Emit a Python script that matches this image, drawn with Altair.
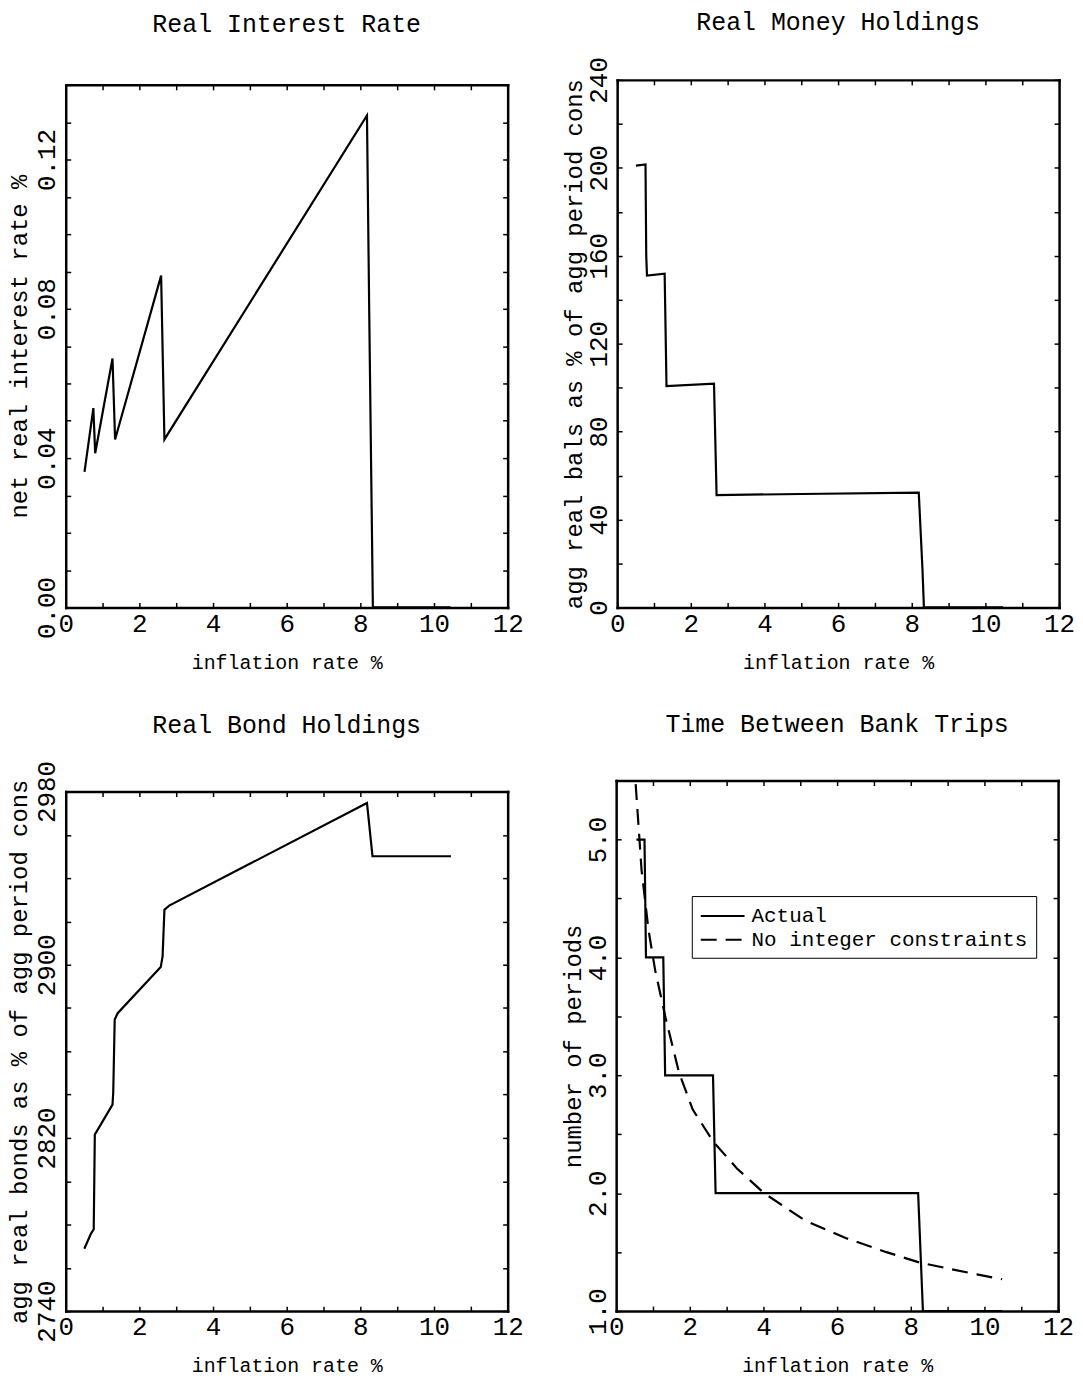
import altair as alt
import pandas as pd

FONT = "Liberation Mono"

# ---------------- data ----------------
# Real Interest Rate
rate_x = [0.51, 0.75, 0.80, 1.27, 1.34, 2.59, 2.68, 8.18, 8.24, 8.34, 10.45]
rate_y = [0.0363, 0.0534, 0.0413, 0.0667, 0.0450, 0.0889, 0.0450, 0.1318, 0.0800, 0.0, 0.0]

# Real Money Holdings
money_x = [0.51, 0.77, 0.79, 0.81, 1.29, 1.34, 2.63, 2.70, 5.00, 8.19, 8.29, 8.33, 10.48]
money_y = [201.0, 201.5, 160.0, 151.0, 151.8, 100.7, 101.8, 51.1, 51.6, 52.2, 17.6, 0.0, 0.0]

# Real Bond Holdings
bond_x = [0.505, 0.68, 0.76, 0.79, 0.83, 1.27, 1.29, 1.33, 1.41, 2.58, 2.63, 2.68, 2.81, 8.18, 8.33, 10.46]
bond_y = [2768.8, 2775.6, 2777.8, 2821.7, 2822.7, 2835.4, 2841.0, 2874.7, 2877.6, 2898.9, 2903.8,
          2925.4, 2927.3, 2974.7, 2950.1, 2950.1]

# Time Between Bank Trips
actual_x = [0.55, 0.77, 0.81, 1.28, 1.33, 2.63, 2.70, 8.20, 8.33, 10.48]
actual_y = [5.0, 5.0, 4.0, 4.0, 3.0, 3.0, 2.0, 2.0, 1.0, 1.0]
noint_x = [0.53, 0.69, 0.88, 1.06, 1.34, 1.71, 2.08, 2.63, 3.28, 4.02, 5.12, 6.23, 7.34, 8.26, 9.19, 9.83, 10.48]
noint_y = [5.47, 4.74, 4.23, 3.89, 3.49, 3.02, 2.71, 2.44, 2.21, 2.00, 1.77, 1.62, 1.50, 1.41, 1.35, 1.31, 1.27]
series_names = ["Actual", "No integer constraints"]

# axis tick values
x_labels = [0, 2, 4, 6, 8, 10, 12]
x_minor = [0, 1, 2, 3, 4, 5, 6, 7, 8, 9, 10, 11, 12]
rate_labels = [0.0, 0.04, 0.08, 0.12]
rate_minor = [0.0, 0.01, 0.02, 0.03, 0.04, 0.05, 0.06, 0.07, 0.08, 0.09, 0.10, 0.11, 0.12, 0.13, 0.14]
money_labels = [0, 40, 80, 120, 160, 200, 240]
money_minor = [0, 20, 40, 60, 80, 100, 120, 140, 160, 180, 200, 220, 240]
bond_labels = [2740, 2820, 2900, 2980]
bond_minor = [2740, 2760, 2780, 2800, 2820, 2840, 2860, 2880, 2900, 2920, 2940, 2960, 2980]
trip_labels = [1.0, 2.0, 3.0, 4.0, 5.0]
trip_minor = [1.0, 1.5, 2.0, 2.5, 3.0, 3.5, 4.0, 4.5, 5.0, 5.5]

# ---------------- helpers ----------------
XS = alt.Scale(domain=[0, 12], nice=False, zero=False)
BOX_W = 2.5


def tick_axis(orient, values, off):
    return alt.Axis(orient=orient, values=values, labels=False, title=None, domain=False,
                    grid=False, ticks=True, tickSize=5, tickWidth=1.5, tickColor="black",
                    offset=off)


def frame_axis(orient, off):
    return alt.Axis(orient=orient, labels=False, title=None, ticks=False, grid=False,
                    domain=True, domainColor="black", domainWidth=BOX_W, domainCap="square",
                    offset=off)


def main_x_axis():
    return alt.Axis(orient="bottom", values=x_labels, format="d", title="inflation rate %",
                    ticks=False, domain=True, domainColor="black", domainWidth=BOX_W,
                    domainCap="square", grid=False, labelFontSize=26, labelPadding=3,
                    labelFlush=False, labelOverlap=False, labelBound=False,
                    titleFontSize=20, titleY=55, titleBaseline="middle")


def main_y_axis(values, fmt, title, title_x):
    return alt.Axis(orient="left", values=values, format=fmt, title=title, ticks=False,
                    domain=True, domainColor="black", domainWidth=BOX_W, domainCap="square",
                    grid=False, labelAngle=270, labelAlign="center",
                    labelBaseline="bottom", labelFontSize=26, labelPadding=6,
                    labelOverlap=False, labelBound=False, labelFlush=False,
                    titleFontSize=24, titleX=title_x, titleBaseline="middle")


def panel(main_layer_fn, df, ydom, ylabels, yminor, yfmt, ytitle, ytitle_x, title, toff,
          w, h, shift):
    ys = alt.Scale(domain=ydom, nice=False, zero=False, range=[h, shift])
    base = alt.Chart(df)
    l1 = main_layer_fn(base, ys, main_y_axis(ylabels, yfmt, ytitle, ytitle_x))
    l2 = base.mark_line(opacity=0).encode(
        x=alt.X("x:Q", scale=XS, axis=tick_axis("bottom", x_minor, -5)),
        y=alt.Y("y:Q", scale=ys, axis=tick_axis("left", yminor, -5)),
    )
    l3 = base.mark_line(opacity=0).encode(
        x=alt.X("x:Q", scale=XS, axis=tick_axis("top", x_minor, -(shift + 5))),
        y=alt.Y("y:Q", scale=ys, axis=tick_axis("right", yminor, -5)),
    )
    l4 = base.mark_line(opacity=0).encode(
        x=alt.X("x:Q", scale=XS, axis=frame_axis("top", -shift)),
        y=alt.Y("y:Q", scale=ys, axis=frame_axis("right", 0)),
    )
    return alt.layer(l1, l2, l3, l4).resolve_axis(x="independent", y="independent").properties(
        width=w, height=h,
        title=alt.TitleParams(text=title, font=FONT, fontSize=25, fontWeight="normal",
                              color="black", anchor="middle", frame="group", offset=toff,
                              baseline="alphabetic"),
    )


def simple_line(base, ys, yaxis):
    return base.mark_line(color="black", strokeWidth=2.2, clip=True).encode(
        x=alt.X("x:Q", scale=XS, axis=main_x_axis()),
        y=alt.Y("y:Q", scale=ys, axis=yaxis),
    )


def trips_line(base, ys, yaxis):
    return base.mark_line(color="black", strokeWidth=2.2, clip=True).encode(
        x=alt.X("x:Q", scale=XS, axis=main_x_axis()),
        y=alt.Y("y:Q", scale=ys, axis=yaxis),
        strokeDash=alt.StrokeDash(
            "series:N",
            scale=alt.Scale(domain=series_names, range=[[1, 0], [16, 9]]),
            legend=alt.Legend(title=None, orient="none", legendX=76, legendY=116,
                              strokeColor="black", fillColor="white", padding=8,
                              labelFont=FONT, labelFontSize=21, labelColor="black",
                              symbolType="M-1,0H3", symbolSize=484, symbolStrokeWidth=2,
                              symbolStrokeColor="black", rowPadding=2, labelOffset=28,
                              labelLimit=400, direction="vertical", cornerRadius=0),
        ),
    )


rate_df = pd.DataFrame({"x": rate_x, "y": rate_y})
money_df = pd.DataFrame({"x": money_x, "y": money_y})
bond_df = pd.DataFrame({"x": bond_x, "y": bond_y})
trips_df = pd.concat([
    pd.DataFrame({"x": actual_x, "y": actual_y, "series": series_names[0]}),
    pd.DataFrame({"x": noint_x, "y": noint_y, "series": series_names[1]}),
], ignore_index=True)

tl = panel(simple_line, rate_df, [0, 0.14], rate_labels, rate_minor, ".2f",
           "net real interest rate %", -46, "Real Interest Rate", 23, 444, 530, 5)
tr = panel(simple_line, money_df, [0, 240], money_labels, money_minor, "d",
           "agg real bals as % of agg period cons", -43, "Real Money Holdings", 2, 444, 530, 0)
bl = panel(simple_line, bond_df, [2740, 2980], bond_labels, bond_minor, "d",
           "agg real bonds as % of agg period cons", -46, "Real Bond Holdings", 3, 444, 533, 11)
br = panel(trips_line, trips_df, [1.0, 5.5], trip_labels, trip_minor, ".1f",
           "number of periods", -43, "Time Between Bank Trips", 23, 444, 533, 0)

chart = (
    alt.concat(tl, tr, bl, br, columns=2, align="none", bounds="full",
               spacing={"row": 40, "column": 38})
    .resolve_scale(strokeDash="independent")
    .resolve_legend(strokeDash="independent")
    .properties(padding={"top": -2, "left": 0, "right": 0, "bottom": 0})
    .configure_view(strokeWidth=0)
    .configure_axis(labelFont=FONT, titleFont=FONT, labelColor="black", titleColor="black",
                    titleFontWeight="normal")
)

chart.save("out.html", embed_options={"renderer": "svg", "actions": False})
